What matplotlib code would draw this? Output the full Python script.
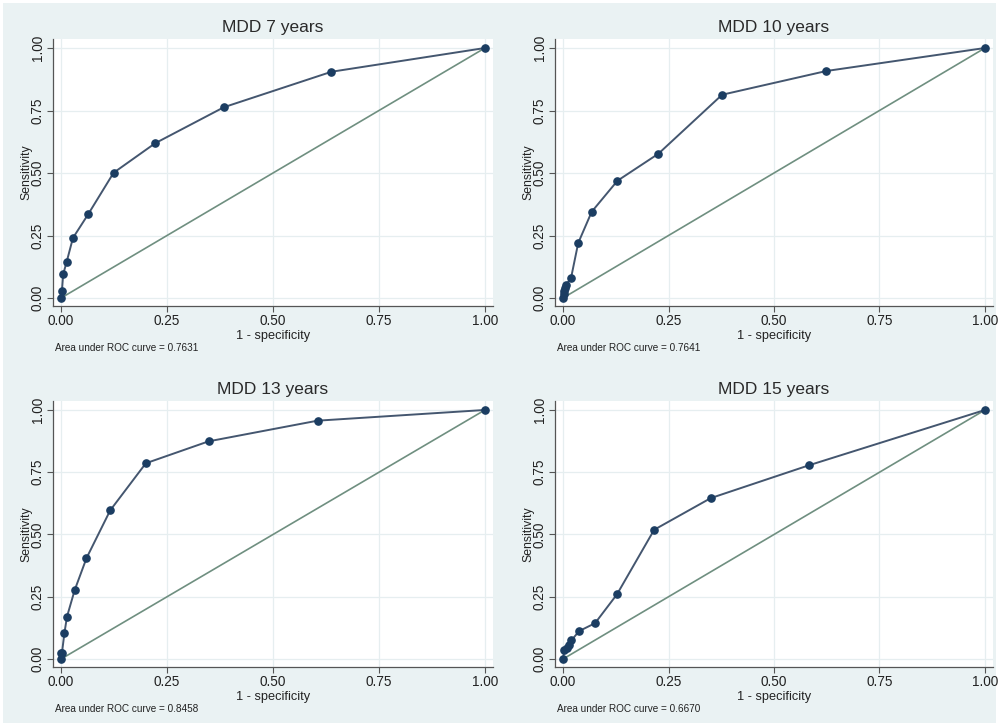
import matplotlib.pyplot as plt
from matplotlib.patches import Rectangle

plt.rcParams['font.family'] = ['Liberation Sans', 'DejaVu Sans']

# ROC points (1 - specificity, sensitivity)
titles = ['MDD 7 years', 'MDD 10 years', 'MDD 13 years', 'MDD 15 years']
auc_labels = ['0.7631', '0.7641', '0.8458', '0.6670']

fpr_7 = [0.0, 0.002, 0.005, 0.013, 0.028, 0.064, 0.124, 0.222, 0.384, 0.638, 1.0]
tpr_7 = [0.0, 0.027, 0.095, 0.143, 0.240, 0.335, 0.501, 0.619, 0.763, 0.905, 1.0]

fpr_10 = [0.0, 0.002, 0.003, 0.005, 0.007, 0.019, 0.036, 0.068, 0.129, 0.226, 0.377, 0.624, 1.0]
tpr_10 = [0.0, 0.017, 0.030, 0.040, 0.052, 0.080, 0.220, 0.345, 0.469, 0.577, 0.813, 0.908, 1.0]

fpr_13 = [0.0, 0.0, 0.002, 0.008, 0.014, 0.032, 0.060, 0.116, 0.200, 0.348, 0.605, 1.0]
tpr_13 = [0.0, 0.023, 0.023, 0.105, 0.170, 0.276, 0.405, 0.597, 0.786, 0.874, 0.957, 1.0]

fpr_15 = [0.0, 0.003, 0.009, 0.014, 0.020, 0.038, 0.076, 0.128, 0.216, 0.350, 0.583, 1.0]
tpr_15 = [0.0, 0.037, 0.045, 0.057, 0.075, 0.112, 0.144, 0.260, 0.519, 0.646, 0.778, 1.0]

fprs = [fpr_7, fpr_10, fpr_13, fpr_15]
tprs = [tpr_7, tpr_10, tpr_13, tpr_15]
ticks = [0, 0.25, 0.5, 0.75, 1.0]
tick_labels = ['0.00', '0.25', '0.50', '0.75', '1.00']

W, H = 998, 727
fig = plt.figure(figsize=(W / 100, H / 100), dpi=100, facecolor='white')
fig.patches.append(Rectangle((3 / W, 4 / H), 993 / W, 720 / H, transform=fig.transFigure,
                             facecolor='#eaf2f3', edgecolor='none', zorder=-10))

# axes boxes in pixels: left, top, right, bottom
boxes = [(53, 39, 493, 306), (555, 39, 993, 306),
         (53, 401, 493, 667), (555, 401, 993, 667)]

text_col = '#222222'
axis_col = '#555555'

for i, (l, t, r, b) in enumerate(boxes):
    ax = fig.add_axes([l / W, (H - b) / H, (r - l) / W, (b - t) / H])
    ax.set_facecolor('white')
    ax.plot([0, 1], [0, 1], color='#6f8f80', lw=1.2, zorder=2)
    ax.plot(fprs[i], tprs[i], color='#44566f', lw=1.4, marker='o', ms=5.2,
            mfc='#1b3d62', mec='#1b3d62', zorder=3)
    ax.set_xlim(-0.019, 1.019)
    ax.set_ylim(-0.032, 1.036)
    ax.set_xticks(ticks)
    ax.set_xticklabels(tick_labels)
    ax.set_yticks(ticks)
    ax.set_yticklabels(tick_labels, rotation=90, va='center')
    ax.grid(True, color='#e6eef0', lw=0.9, zorder=0)
    ax.set_axisbelow(True)
    for s in ['top', 'right']:
        ax.spines[s].set_visible(False)
    for s in ['left', 'bottom']:
        ax.spines[s].set_color(axis_col)
        ax.spines[s].set_linewidth(0.9)
    ax.tick_params(length=4, width=0.8, color=axis_col, labelsize=9.8, labelcolor=text_col, pad=2)
    ax.tick_params(axis='y', pad=2)
    ax.set_xlabel('1 - specificity', fontsize=9.2, color=text_col, labelpad=1)
    ax.set_ylabel('Sensitivity', fontsize=8.8, color=text_col)
    ax.yaxis.set_label_coords(-0.047, 0.5)
    ax.set_title(titles[i], fontsize=12.5, color='#2a2a2a', pad=5)
    ax.text(0.005, -0.157, 'Area under ROC curve = ' + auc_labels[i], transform=ax.transAxes,
            fontsize=7.2, color=text_col, ha='left', va='center')

fig.savefig('out.png', dpi=100, facecolor=fig.get_facecolor())
